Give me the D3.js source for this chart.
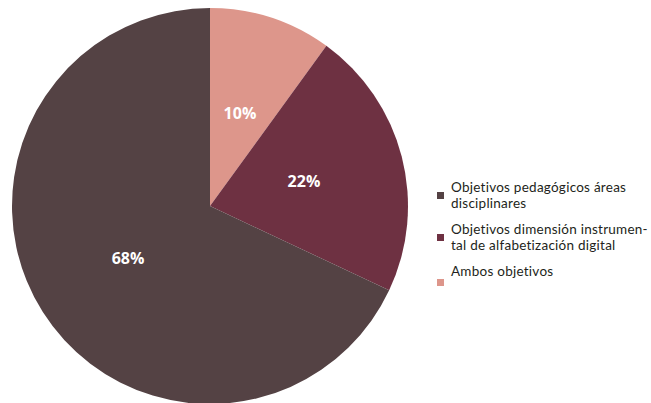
<!DOCTYPE html>
<html>
<head>
<meta charset="utf-8">
<script src="https://cdn.jsdelivr.net/npm/d3@7"></script>
<style>
  body { margin: 0; background: #fff; }
  svg { display: block; }
</style>
</head>
<body>
<div id="chart"></div>
<script>
// Categories and values, clockwise from 12 o'clock
const categories = ['Ambos objetivos', 'Objetivos dimensión instrumental de alfabetización digital', 'Objetivos pedagógicos áreas disciplinares'];
const values = [10, 22, 68];
const colors = ['#dd968b', '#6e3142', '#544244'];

// Legend order and wrapped lines as printed
const legendOrder = [2, 1, 0];
const legendLines = [
    ['Objetivos pedagógicos áreas', 'disciplinares'],
    ['Objetivos dimensión instrumen-', 'tal de alfabetización digital'],
    ['Ambos objetivos']
];

const width = 651, height = 403;
const cx = 210, cy = 206, radius = 198;

const svg = d3.select('#chart')
    .append('svg')
    .attr('width', width)
    .attr('height', height);

const pie = d3.pie().sort(null).value(d => d);
const arcs = pie(values);

const arc = d3.arc().innerRadius(0).outerRadius(radius);
const labelArc = d3.arc().innerRadius(radius * 0.49).outerRadius(radius * 0.49);

const g = svg.append('g').attr('transform', `translate(${cx},${cy})`);

g.selectAll('path')
    .data(arcs)
    .enter().append('path')
    .attr('d', arc)
    .attr('fill', (d, i) => colors[i]);

g.selectAll('text')
    .data(arcs)
    .enter().append('text')
    .attr('transform', d => `translate(${labelArc.centroid(d)})`)
    .attr('text-anchor', 'middle')
    .attr('dy', '0.35em')
    .style('font-family', '"Open Sans", sans-serif')
    .style('font-weight', 'bold')
    .style('font-size', '16px')
    .style('fill', '#fff')
    .text(d => d.data + '%');

// Legend
const legendX = 437, legendTop = [192, 234, 276];
const lineH = 16;
const legend = svg.append('g')
    .style('font-family', 'Lato, sans-serif')
    .style('font-size', '13.5px')
    .style('letter-spacing', '0.25px')
    .style('fill', '#231f20');

legendOrder.forEach((idx, k) => {
    const item = legend.append('g');
    const lines = legendLines[k];
    const nLines = lines.length;
    item.append('rect')
        .attr('x', legendX)
        .attr('y', nLines === 1 ? legendTop[k] + 3 : legendTop[k])
        .attr('width', 7)
        .attr('height', 7)
        .attr('fill', colors[idx]);
    lines.forEach((line, j) => {
        item.append('text')
            .attr('x', legendX + 14)
            .attr('y', legendTop[k] + j * lineH)
            .text(line);
    });
});
</script>
</body>
</html>
